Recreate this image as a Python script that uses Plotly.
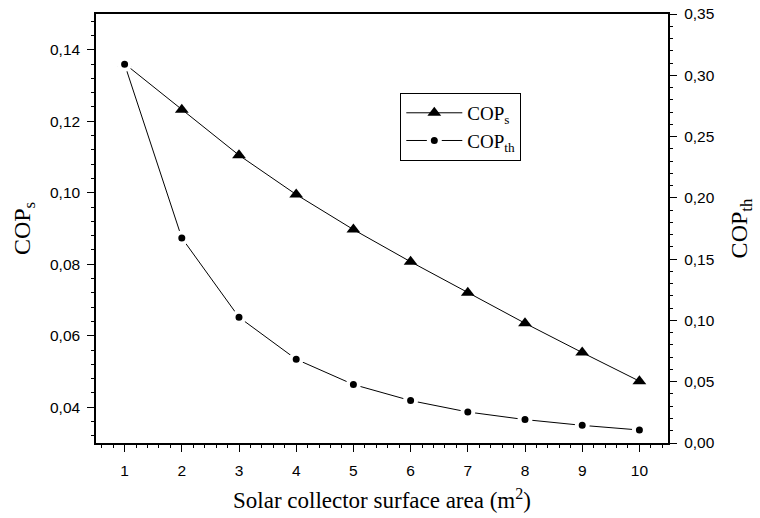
import plotly.graph_objects as go

area = [1, 2, 3, 4, 5, 6, 7, 8, 9, 10]
cop_s = [0.1361, 0.1232, 0.1105, 0.0995, 0.0897, 0.0807, 0.0720, 0.0635, 0.0553, 0.0473]
cop_th = [0.309, 0.1673, 0.1026, 0.0683, 0.0477, 0.0346, 0.0253, 0.0191, 0.0144, 0.0106]

serif = "Liberation Serif, Times New Roman, serif"
sans = "Liberation Sans, Arial, sans-serif"

fig = go.Figure()
fig.add_trace(go.Scatter(
    x=area, y=cop_s, name="COP<sub>s</sub>", mode="lines+markers",
    line=dict(color="black", width=1),
    marker=dict(symbol="triangle-up", size=12, color="black"),
    yaxis="y"))
fig.add_trace(go.Scatter(
    x=area, y=cop_th, name="COP<sub>th</sub>", mode="lines+markers",
    line=dict(color="black", width=1),
    marker=dict(symbol="circle", size=11, color="black", line=dict(color="white", width=4)),
    yaxis="y2"))

tick_common = dict(
    showgrid=False, zeroline=False, automargin=False,
    showline=True, linecolor="black", linewidth=1.5,
    ticks="outside", ticklen=7, tickwidth=1.2, tickcolor="black",
    tickfont=dict(family=sans, size=15.5, color="black"),
)

fig.update_layout(
    width=760, height=518,
    margin=dict(l=96, r=92, t=14, b=75),
    paper_bgcolor="white", plot_bgcolor="white",
    separators=",.",
    showlegend=True,
    legend=dict(x=0.532, y=0.816, xanchor="left", yanchor="top",
                bordercolor="black", borderwidth=1, bgcolor="white",
                font=dict(family=serif, size=19, color="black"),
                itemwidth=56, tracegroupgap=0),
    xaxis=dict(
        range=[0.5, 10.5], tick0=0, dtick=1, mirror=True, ticklabelstandoff=6,
        minor=dict(dtick=0.2, tick0=0, ticks="outside", ticklen=3.5, tickwidth=1, tickcolor="black", showgrid=False),
        title=dict(text="Solar collector surface area (m<sup>2</sup>)",
                   font=dict(family=serif, size=23, color="black"), standoff=14),
        **tick_common,
    ),
    yaxis=dict(
        range=[0.03, 0.15], tick0=0, dtick=0.02, tickformat=".2f", ticklabelstandoff=4,
        minor=dict(dtick=0.004, tick0=0, ticks="outside", ticklen=3.5, tickwidth=1, tickcolor="black", showgrid=False),
        title=dict(text="COP<sub>s</sub>", font=dict(family=serif, size=24, color="black"), standoff=13),
        **tick_common,
    ),
    yaxis2=dict(
        overlaying="y", side="right",
        range=[0, 0.35], tick0=0, dtick=0.05, tickformat=".2f", tickprefix="\u00a0",
        minor=dict(dtick=0.01, tick0=0, ticks="outside", ticklen=3.5, tickwidth=1, tickcolor="black", showgrid=False),
        title=dict(text="COP<sub>th</sub>", font=dict(family=serif, size=24, color="black"), standoff=16),
        **tick_common,
    ),
)

fig.write_html("out.html", config={"displayModeBar": False},
               post_script="document.body.style.margin='0px';")
